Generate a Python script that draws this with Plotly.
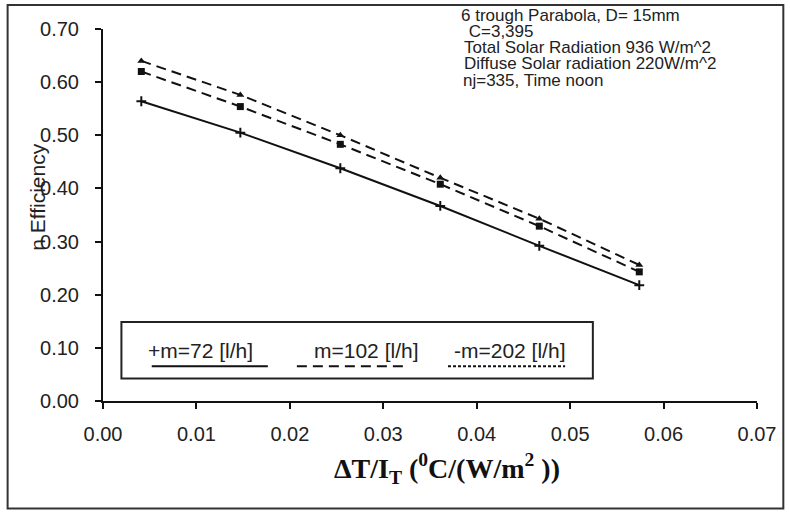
import plotly.graph_objects as go

# ---- data ----
dT_over_IT = [0.0041, 0.0147, 0.0254, 0.0361, 0.0467, 0.0574]
eff_m72 = [0.564, 0.505, 0.438, 0.367, 0.292, 0.218]
eff_m102 = [0.620, 0.554, 0.483, 0.408, 0.329, 0.243]
eff_m202 = [0.640, 0.576, 0.500, 0.420, 0.343, 0.256]
series_names = ["m=72 [l/h]", "m=102 [l/h]", "m=202 [l/h]"]
legend_labels = ["+m=72 [l/h]", "m=102 [l/h]", "-m=202 [l/h]"]
x_ticks = [0.00, 0.01, 0.02, 0.03, 0.04, 0.05, 0.06, 0.07]
y_ticks = [0.00, 0.10, 0.20, 0.30, 0.40, 0.50, 0.60, 0.70]
info_lines = [
    "6 trough Parabola, D= 15mm",
    " C=3,395",
    "Total Solar Radiation 936 W/m^2",
    "Diffuse Solar radiation 220W/m^2",
    "nj=335, Time noon",
]

W, H = 790, 512
L, R, T, B = 103.3, 756.7, 29.0, 400.7  # plot area in pixels
SANS = "Liberation Sans, Arial"


def px(xp):
    return (xp - L) / (R - L)


def py(yp):
    return (B - yp) / (B - T)


fig = go.Figure()
fig.add_trace(go.Scatter(
    x=dT_over_IT, y=eff_m72, name=series_names[0], mode="lines+markers",
    line=dict(color="#111", width=2),
    marker=dict(symbol="cross-thin", size=7, line=dict(width=2, color="#111")),
))
fig.add_trace(go.Scatter(
    x=dT_over_IT, y=eff_m102, name=series_names[1], mode="lines+markers",
    line=dict(color="#111", width=2, dash="10px,6px"),
    marker=dict(symbol="square", size=7, color="#111"),
))
fig.add_trace(go.Scatter(
    x=dT_over_IT, y=eff_m202, name=series_names[2], mode="lines+markers",
    line=dict(color="#111", width=2, dash="10px,6px"),
    marker=dict(symbol="triangle-up", size=7, color="#111"),
))

shapes = []
annotations = []

# outer frame
shapes.append(dict(type="rect", xref="paper", yref="paper",
                   x0=px(8), x1=px(783), y0=py(508), y1=py(5),
                   line=dict(color="#333", width=2), layer="below"))
# legend box
shapes.append(dict(type="rect", xref="paper", yref="paper",
                   x0=px(121.7), x1=px(592.7), y0=py(378.3), y1=py(321.7),
                   line=dict(color="#222", width=2), fillcolor="white"))
legend_text_x = [146.7, 311.7, 451.7]
legend_line_x = [(152, 268), (297, 407), (448, 565)]
legend_dash = ["solid", "10px,6px", "3px,2px"]
for i in range(3):
    annotations.append(dict(xref="paper", yref="paper", x=px(legend_text_x[i]), y=py(350),
                            text=legend_labels[i], showarrow=False, xanchor="left", yanchor="middle",
                            font=dict(family=SANS, size=21, color="#222")))
    shapes.append(dict(type="line", xref="paper", yref="paper",
                       x0=px(legend_line_x[i][0]), x1=px(legend_line_x[i][1]), y0=py(366), y1=py(366),
                       line=dict(color="#111", width=2, dash=legend_dash[i])))

# info text
info_y = [16, 31, 47, 63, 80]
info_x = [459, 462, 462, 462, 461]
for t, xx, yy in zip(info_lines, info_x, info_y):
    annotations.append(dict(xref="paper", yref="paper", x=px(xx), y=py(yy), text=t,
                            showarrow=False, xanchor="left", yanchor="middle",
                            font=dict(family=SANS, size=17, color="#222")))

# y title
annotations.append(dict(xref="paper", yref="paper", x=px(37), y=py(197), text="n Efficiency",
                        showarrow=False, textangle=-90, xanchor="center", yanchor="middle",
                        font=dict(family=SANS, size=21, color="#222")))
# x title
annotations.append(dict(xref="paper", yref="paper", x=px(447), y=py(468),
                        text="<b>ΔT/I<sub>T</sub> (<sup>0</sup>C/(W/m<sup>2</sup> ))</b>",
                        showarrow=False, xanchor="center", yanchor="middle",
                        font=dict(family="Liberation Serif, Times New Roman", size=28, color="#111")))

axis_common = dict(showgrid=False, zeroline=False, showline=True, linecolor="#111", linewidth=2,
                   ticks="outside", ticklen=6, tickwidth=2, tickcolor="#111",
                   tickfont=dict(family=SANS, size=20, color="#222"))

fig.update_layout(
    width=W, height=H,
    margin=dict(l=L, r=W - R, t=T, b=H - B, pad=0),
    paper_bgcolor="white", plot_bgcolor="white",
    showlegend=False,
    shapes=shapes, annotations=annotations,
    xaxis=dict(range=[0, 0.07], tickvals=x_ticks, ticktext=[f"{v:.2f}" for v in x_ticks],
               ticklabelstandoff=8, **axis_common),
    yaxis=dict(range=[0, 0.7], tickvals=y_ticks, ticktext=[f"{v:.2f}" for v in y_ticks],
               ticklabelstandoff=12, **axis_common),
)

fig.write_html("out.html", config={"displayModeBar": False},
               post_script="document.body.style.margin='0px';")
